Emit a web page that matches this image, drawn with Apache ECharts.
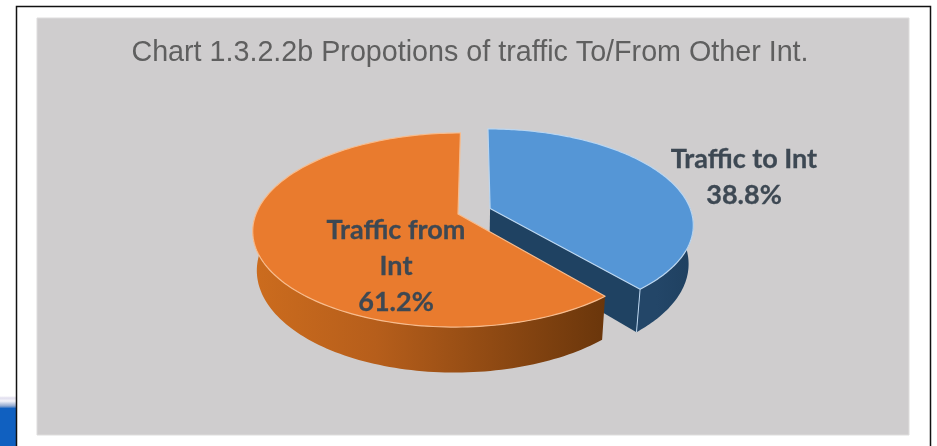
<!DOCTYPE html>
<html><head><meta charset="utf-8">
<style>html,body{margin:0;padding:0;background:#fff}#c{width:937px;height:446px}</style>
<script src="https://cdn.jsdelivr.net/npm/echarts@6/dist/echarts.min.js"></script>
</head><body><div id="c"></div>
<script>
const titleText = 'Chart 1.3.2.2b Propotions of traffic To/From Other Int.';
const categories = ['Traffic to Int', 'Traffic from Int'];
const values = [38.8, 61.2];
const labelLines = [['Traffic to Int'], ['Traffic from', 'Int']];
const explode = [0.17, 0];

// projection of the tilted disc
const P = {cx: 458, cy: 214, vx: 475, rx: 202, ry: 94.4, p: 0.165, depth: 38, shrink: 0.98};
function project(u, v, low) {
  const s = 1 / (1 - P.p * v);
  let X = P.vx + ((P.cx - P.vx) + P.rx * u) * s;
  let Y = P.cy + P.ry * v * s;
  if (low) { X = P.cx + (X - P.cx) * P.shrink; Y += P.depth * s; }
  return [X, Y];
}
const total = values.reduce((a, b) => a + b, 0);
const styles = [
  {top: '#5596D6', rim: '#BBD6F0', wall: '#234668', wallMid: '#234668', wallEnd: '#1F4060', inner: '#1F4262'},
  {top: '#E97B2E', rim: '#F7BC8E', wall: '#CC6C1E', wallMid: '#B65E1B', wallEnd: '#6A360B', inner: '#6A360B'}
];
const labelPos = [[744, 177], [396, 266]];

function renderItem(params, api) {
  const i = params.dataIndex;
  let start = 0;
  for (let k = 0; k < i; k++) start += values[k] / total * 2 * Math.PI;
  const sweep = api.value(0) / total * 2 * Math.PI;
  const mid = start + sweep / 2;
  const ou = explode[i] * Math.sin(mid), ov = -explode[i] * Math.cos(mid);
  const arcT = [], wallT = [], wallB = [];
  const N = 160;
  let endT, endB;
  for (let n = 0; n <= N; n++) {
    const t = start + sweep * n / N;
    const u = ou + Math.sin(t), v = ov - Math.cos(t);
    const pt = project(u, v, false), pb = project(u, v, true);
    arcT.push(pt);
    // only the near half of the rim shows a wall
    if (-Math.cos(t) > -0.05) { wallT.push(pt); wallB.push(pb); }
    if (n === N) { endT = pt; endB = pb; }
  }
  const apexT = project(ou, ov, false), apexB = project(ou, ov, true);
  const st = styles[i];
  const kids = [];
  kids.push({
    type: 'polygon',
    shape: {points: wallT.concat(wallB.slice().reverse())},
    style: {fill: {type: 'linear', x: 0, y: 0, x2: 1, y2: 0, colorStops: [
      {offset: 0, color: st.wall}, {offset: 0.35, color: st.wallMid}, {offset: 1, color: st.wallEnd}]}}
  });
  if (i === 0) {
    kids.push({type: 'polygon', shape: {points: [apexT, endT, endB, apexB]}, style: {fill: st.inner}});
    kids.push({type: 'line', shape: {x1: endT[0], y1: endT[1], x2: endB[0], y2: endB[1]},
      style: {stroke: st.rim, lineWidth: 1}});
  }
  kids.push({
    type: 'polygon',
    shape: {points: [apexT].concat(arcT)},
    style: {fill: st.top, stroke: st.rim, lineWidth: 1.2, lineJoin: 'round'}
  });
  return {type: 'group', children: kids};
}

function renderLabel(params, api) {
  const i = params.dataIndex;
  const txt = labelLines[i].concat([api.value(0).toFixed(1) + '%']).join('\n');
  return {
    type: 'text',
    style: {
      x: labelPos[i][0], y: labelPos[i][1], text: txt, textAlign: 'center', textVerticalAlign: 'middle',
      font: 'bold 27px Lato', lineHeight: 36, fill: '#3D4853', stroke: '#3D4853', lineWidth: 0.3
    }
  };
}

const chart = echarts.init(document.getElementById('c'), null, {renderer: 'canvas'});
chart.setOption({
  animation: false,
  backgroundColor: '#fff',
  title: {
    text: titleText, left: 465, top: 34, textAlign: 'center',
    textStyle: {fontFamily: 'Liberation Sans', fontWeight: 'normal', fontSize: 28.7, color: '#5F5F5F'}
  },
  graphic: [
    {type: 'rect', z: -10, shape: {x: 37, y: 18, width: 872, height: 417}, style: {fill: '#CFCDCE', stroke: '#DEDDDD', lineWidth: 1}},
    {type: 'rect', z: -10, shape: {x: 0, y: 396, width: 16, height: 50}, style: {fill: {type: 'linear', x: 0, y: 0, x2: 0, y2: 1, colorStops: [
      {offset: 0, color: '#FFFFFF'}, {offset: 0.04, color: '#E0DEEE'}, {offset: 0.1, color: '#F4F4FA'},
      {offset: 0.2, color: '#8FA8D0'}, {offset: 0.25, color: '#1060C0'}, {offset: 1, color: '#1060C0'}]}}},
    {type: 'rect', z: -9, shape: {x: 16.5, y: 6.5, width: 914, height: 445}, style: {fill: 'none', stroke: '#111', lineWidth: 1.5}}
  ],
  series: [
    {type: 'custom', coordinateSystem: 'none', renderItem, data: values.map((v, i) => ({name: categories[i], value: [v]})), z: 2},
    {type: 'custom', coordinateSystem: 'none', renderItem: renderLabel, data: values.map((v, i) => ({name: categories[i], value: [v]})), z: 3}
  ]
});
</script></body></html>
